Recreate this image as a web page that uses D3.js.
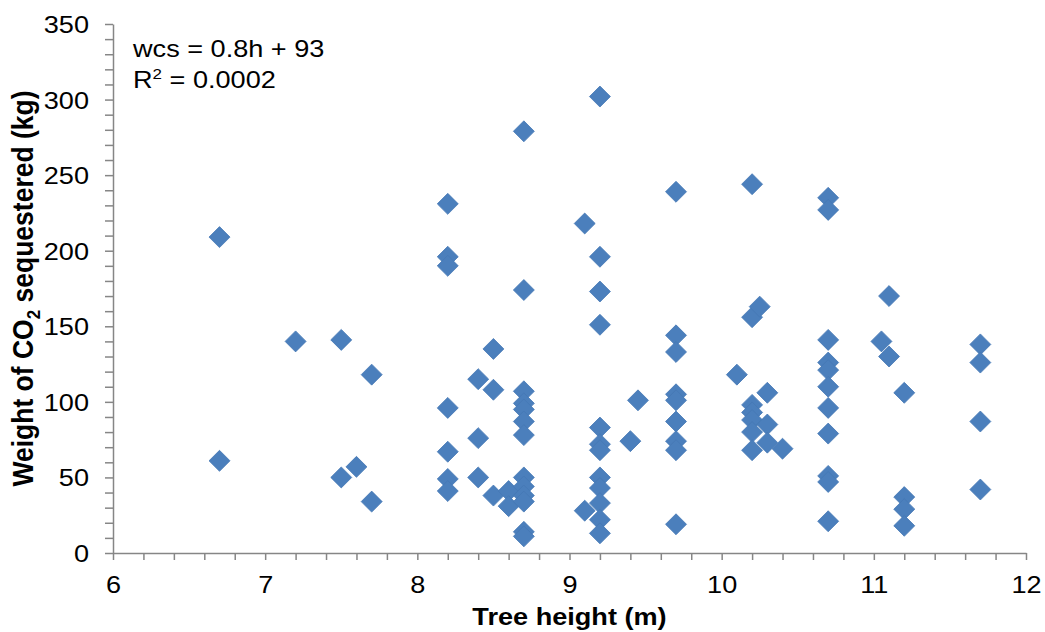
<!DOCTYPE html>
<html>
<head>
<meta charset="utf-8">
<script src="https://cdn.jsdelivr.net/npm/d3@7"></script>
<style>
    body { margin: 0; background: #ffffff; }
    svg text { font-family: "Liberation Sans", Arial, sans-serif; fill: #000000; }
</style>
</head>
<body>
<div id="co2_viz"></div>
<script>

    // tree height (m) and CO2 sequestered (kg)
    var heights = [
        6.7, 6.7,
        7.2,
        7.5, 7.5,
        7.6,
        7.7, 7.7,
        8.2, 8.2, 8.2, 8.2, 8.2, 8.2, 8.2,
        8.4, 8.4, 8.4,
        8.5, 8.5, 8.5,
        8.6, 8.6,
        8.7, 8.7, 8.7, 8.7, 8.7, 8.7, 8.7, 8.7, 8.7, 8.7, 8.7, 8.7, 8.7,
        9.1, 9.1,
        9.2, 9.2, 9.2, 9.2, 9.2, 9.2, 9.2, 9.2, 9.2, 9.2, 9.2, 9.2,
        9.4,
        9.45,
        9.7, 9.7, 9.7, 9.7, 9.7, 9.7, 9.7, 9.7, 9.7,
        10.1,
        10.2, 10.2, 10.2, 10.2, 10.2, 10.2, 10.2,
        10.25,
        10.3, 10.3, 10.3,
        10.4,
        10.7, 10.7, 10.7, 10.7, 10.7, 10.7, 10.7, 10.7, 10.7, 10.7, 10.7,
        11.05,
        11.1, 11.1,
        11.2, 11.2, 11.2, 11.2,
        11.7, 11.7, 11.7, 11.7
    ];
    var co2 = [
        209, 61,
        140,
        141, 50,
        57,
        118, 34,
        231, 196, 190, 96, 67, 49, 41,
        115, 76, 50,
        135, 108, 38,
        41, 31,
        279, 174, 107, 99, 95, 87, 78, 50, 44, 38, 34, 14, 11,
        218, 28,
        302, 196, 173, 151, 83, 72, 68, 50, 43, 33, 22, 13,
        74,
        101,
        239, 144, 133, 105, 101, 87, 74, 68, 19,
        118,
        244, 156, 98, 93, 88, 80, 68,
        163,
        106, 85, 73,
        69,
        235, 227, 141, 126, 121, 110, 96, 79, 51, 47, 21,
        140,
        170, 130,
        106, 37, 29, 18,
        138, 126, 87, 42
    ];

    var xTicks = [6, 7, 8, 9, 10, 11, 12];
    var yTicks = [0, 50, 100, 150, 200, 250, 300, 350];
    var equationLines = ["wcs = 0.8h + 93", "0.0002"];

    var data = heights.map(function (h, i) { return {h: h, w: co2[i]}; });

    // text in the original is stretched a little sideways
    var stretch = 1.13;

    var fullWidth = 1045, fullHeight = 632;
    var margin = {top: 24, right: 19, bottom: 79, left: 113},
        width = fullWidth - margin.left - margin.right,
        height = fullHeight - margin.top - margin.bottom;

    var svg = d3.select("#co2_viz")
        .append("svg")
        .attr("width", fullWidth)
        .attr("height", fullHeight);

    var g = svg.append("g")
        .attr("transform", "translate(" + margin.left + "," + margin.top + ")");

    var x = d3.scaleLinear()
        .domain([6, 12])
        .range([0, width]);

    var y = d3.scaleLinear()
        .domain([0, 350])
        .range([height, 0]);

    // X axis, minor ticks every 0.2
    var xMinor = d3.range(30, 61).map(function (v) { return v / 5; });
    var xAxis = g.append("g")
        .attr("transform", "translate(0," + height + ")")
        .call(d3.axisBottom(x)
            .tickValues(xMinor)
            .tickSize(7)
            .tickSizeOuter(0)
            .tickFormat(function (d) {
                return xTicks.indexOf(Math.round(d * 5) / 5) >= 0 ? d3.format("d")(d) : "";
            }));

    xAxis.selectAll("text")
        .attr("y", 0)
        .attr("dy", 0)
        .attr("transform", "translate(0,40) scale(" + stretch + ",1)")
        .style("font-size", "24px");

    // Y axis, minor ticks every 10
    var yAxis = g.append("g")
        .call(d3.axisLeft(y)
            .tickValues(d3.range(0, 351, 10))
            .tickSize(8)
            .tickSizeOuter(0)
            .tickFormat(function (d) {
                return yTicks.indexOf(d) >= 0 ? d : "";
            }));

    yAxis.selectAll("text")
        .attr("x", 0)
        .attr("dy", 0)
        .attr("transform", "translate(-24,8.5) scale(" + stretch + ",1)")
        .style("font-size", "24px");

    g.selectAll(".domain, .tick line")
        .attr("stroke", "#868686")
        .attr("stroke-width", 1.5);

    // axis titles
    svg.append("text")
        .attr("transform", "translate(" + (margin.left + width / 2) + ",625) scale(" + stretch + ",1)")
        .style("text-anchor", "middle")
        .style("font-size", "24px")
        .style("font-weight", "bold")
        .text("Tree height (m)");

    var yTitle = svg.append("text")
        .attr("transform", "translate(33," + (margin.top + height / 2) + ") rotate(-90) scale(1," + stretch + ")")
        .style("text-anchor", "middle")
        .style("font-size", "26.5px")
        .style("font-weight", "bold");
    yTitle.append("tspan").text("Weight of CO");
    yTitle.append("tspan").attr("dy", 6).style("font-size", "17px").text("2");
    yTitle.append("tspan").attr("dy", -6).text(" sequestered (kg)");

    // trendline equation
    svg.append("text")
        .attr("transform", "translate(133,57) scale(" + stretch + ",1)")
        .style("font-size", "24px")
        .text(equationLines[0]);

    var r2 = svg.append("text")
        .attr("transform", "translate(133,88) scale(" + stretch + ",1)")
        .style("font-size", "24px");
    r2.append("tspan").text("R");
    r2.append("tspan").attr("dy", -9).style("font-size", "15px").text("2");
    r2.append("tspan").attr("dy", 9).text(" = " + equationLines[1]);

    // diamond markers
    var diamond = d3.symbol().type(d3.symbolSquare).size(220);
    g.append("g")
        .selectAll("path")
        .data(data)
        .enter()
        .append("path")
        .attr("d", diamond)
        .attr("transform", function (d) {
            return "translate(" + x(d.h) + "," + y(d.w) + ") rotate(45)";
        })
        .style("fill", "#4b7fbc")
        .style("stroke", "#4678b5")
        .style("stroke-width", 0.75);

</script>
</body>
</html>
